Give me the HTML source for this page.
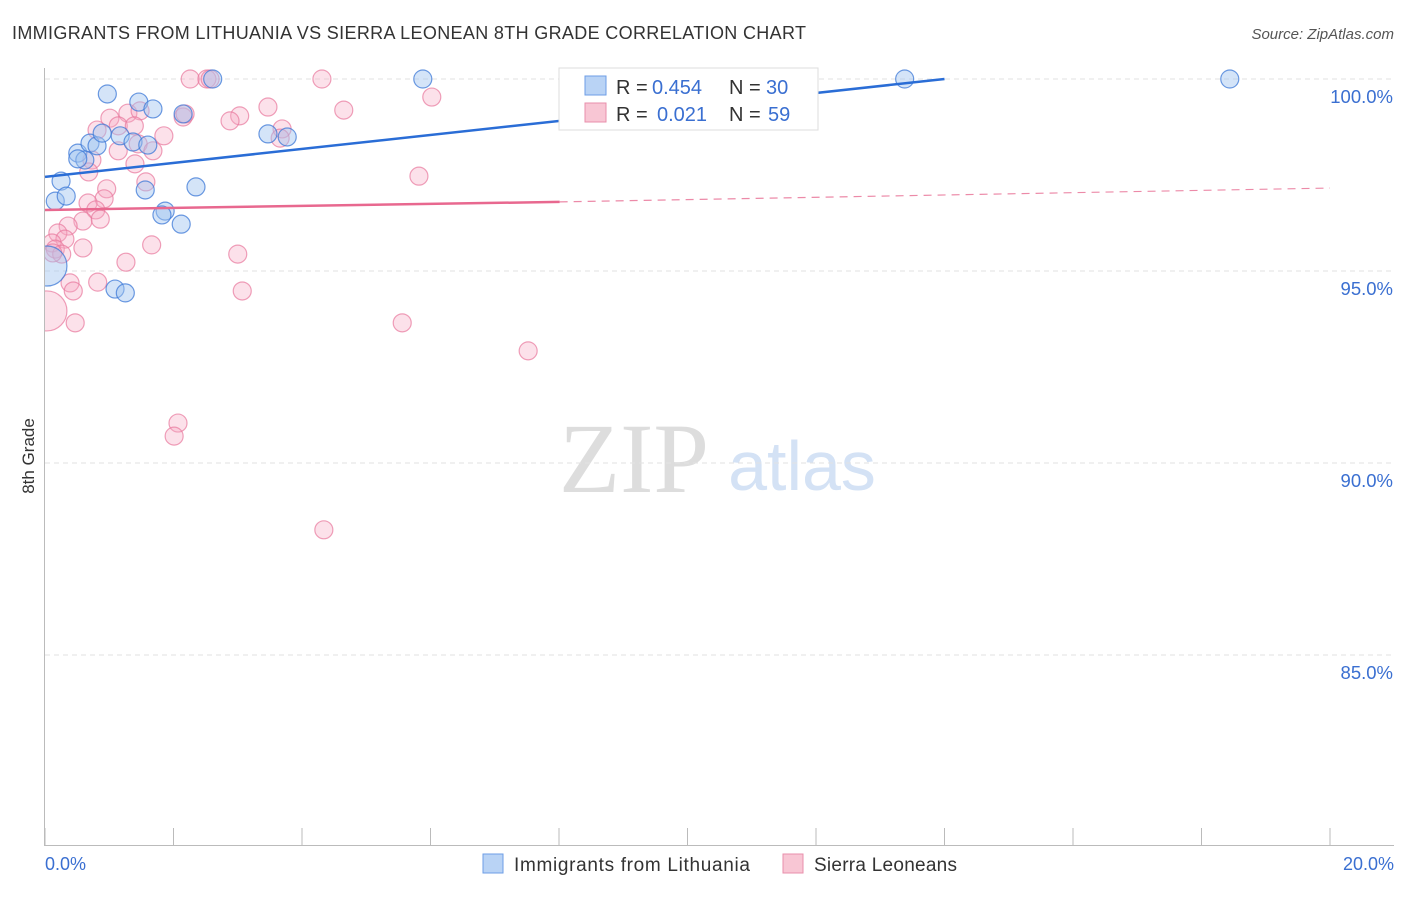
<!DOCTYPE html>
<html><head><meta charset="utf-8"><style>
body{margin:0;background:#fff;width:1406px;height:892px;overflow:hidden;font-family:"Liberation Sans",sans-serif}
</style></head><body>
<svg id="c" width="1406" height="892" xmlns="http://www.w3.org/2000/svg" font-family="Liberation Sans, sans-serif">
<defs><clipPath id="plot"><rect x="45" y="60" width="1360" height="786"/></clipPath></defs>
<text x="12" y="39" font-size="18" fill="#333" textLength="794">IMMIGRANTS FROM LITHUANIA VS SIERRA LEONEAN 8TH GRADE CORRELATION CHART</text>
<text x="1394" y="39" font-size="15" fill="#555" font-style="italic" text-anchor="end">Source: ZipAtlas.com</text>
<text x="34" y="456" font-size="17" fill="#333" transform="rotate(-90 34 456)" text-anchor="middle">8th Grade</text>
<text x="634" y="492" font-size="100" fill="#ddd" style="font-family:'Liberation Serif',serif" text-anchor="middle">ZIP</text>
<text x="802" y="490" font-size="70" fill="#d4e2f5" text-anchor="middle">atlas</text>
<g id="grid"></g><g id="pts" clip-path="url(#plot)"></g><g id="lines"></g>
<g>
<rect x="559" y="68" width="259" height="62" fill="#fff" stroke="#ddd"/>
<rect x="585" y="76" width="21" height="19" fill="#b9d3f5" stroke="#6d9ee6"/>
<text y="94" font-size="20" fill="#333"><tspan x="616">R =</tspan><tspan x="652" fill="#3a6fd1">0.454</tspan><tspan x="729">N =</tspan><tspan x="766" fill="#3a6fd1">30</tspan></text>
<rect x="585" y="103" width="21" height="19" fill="#f8c6d4" stroke="#e88fab"/>
<text y="121" font-size="20" fill="#333"><tspan x="616">R =</tspan><tspan x="657" fill="#3a6fd1">0.021</tspan><tspan x="729">N =</tspan><tspan x="768" fill="#3a6fd1">59</tspan></text>
</g>
<g>
<rect x="483" y="854" width="20" height="19" fill="#b9d3f5" stroke="#6d9ee6"/>
<text x="514" y="871" font-size="19" fill="#333" textLength="236">Immigrants from Lithuania</text>
<rect x="783" y="854" width="20" height="19" fill="#f8c6d4" stroke="#e88fab"/>
<text x="814" y="871" font-size="19" fill="#333" textLength="143">Sierra Leoneans</text>
</g>
<text x="45" y="870" font-size="18" fill="#3a6fd1">0.0%</text>
<text x="1394" y="870" font-size="18" fill="#3a6fd1" text-anchor="end">20.0%</text>
</svg>
<script>
const yTicks=[100,95,90,85];
const yTickLabels=["100.0%","95.0%","90.0%","85.0%"];
const blueX=[0.97,1.46,1.68,2.15,2.61,5.88,13.38,18.44,0.51,0.70,0.81,0.62,0.89,1.17,1.37,1.60,0.25,0.16,0.33,1.56,1.87,1.82,2.12,2.35,3.47,3.77,1.09,1.25,0.03,0.51];
const blueY=[99.61,99.40,99.22,99.09,100,100,100,100,98.07,98.33,98.26,97.89,98.59,98.52,98.36,98.28,97.34,96.82,96.95,97.11,96.56,96.46,96.22,97.19,98.57,98.49,94.53,94.43,95.13,97.92];
const pinkX=[2.26,2.52,2.57,4.31,6.02,4.65,3.03,2.88,2.15,1.29,1.48,1.01,0.81,1.14,1.39,1.85,1.45,1.14,1.68,1.40,0.73,0.68,3.69,3.66,5.82,1.57,0.96,0.92,0.67,0.79,0.86,0.59,0.36,0.20,0.31,0.11,0.16,0.26,0.12,0.59,1.66,3.00,1.26,0.82,0.39,0.44,3.07,0.47,5.56,7.52,2.07,2.01,4.34,0.03,2.18,3.47];
const pinkY=[100,100,100,100,99.53,99.19,99.04,98.91,99.01,99.11,99.17,98.98,98.67,98.78,98.78,98.52,98.31,98.13,98.13,97.79,97.89,97.58,98.70,98.46,97.47,97.32,97.14,96.88,96.77,96.59,96.35,96.30,96.17,95.99,95.83,95.73,95.57,95.44,95.47,95.60,95.68,95.44,95.23,94.71,94.69,94.48,94.48,93.65,93.65,92.92,91.04,90.70,88.26,93.96,99.09,99.27];
const blueFit=[[0,97.45],[14.0,100]];
const pinkFitSolid=[[0,96.59],[8.01,96.80]];
const pinkFitDash=[[8.01,96.80],[20,97.16]];
const sx=v=>45+v/20*1285, sy=v=>79+(100-v)*38.4;
const NS="http://www.w3.org/2000/svg";
function mk(t,a,p){const e=document.createElementNS(NS,t);for(const k in a)e.setAttribute(k,a[k]);p.appendChild(e);return e;}
const g=document.getElementById('grid');
yTicks.forEach((t,i)=>{
 const l=mk('line',{x1:45,x2:1394,y1:sy(t),y2:sy(t),stroke:'#e2e2e2','stroke-dasharray':'5,4'},g);
 
 
 const tx=mk('text',{x:1393,y:sy(t)+24,'font-size':18.5,fill:'#3a6fd1','text-anchor':'end'},g);
 tx.textContent=yTickLabels[i];
 
 
});
const ax=mk('line',{x1:44.5,x2:44.5,y1:68,y2:846,stroke:'#bbb'},g);


const bx=mk('line',{x1:44,x2:1394,y1:845.5,y2:845.5,stroke:'#bbb'},g);


for(let i=0;i<=10;i++){const t=mk('line',{x1:sx(i*2),x2:sx(i*2),y1:828,y2:846,stroke:'#bbb'},g);
 
 }
const P=document.getElementById('pts');
pinkX.forEach((x,i)=>{const r=(x<0.1)?20:9;const c=mk('circle',{cx:sx(x),cy:sy(pinkY[i]),r:r,fill:'rgba(246,170,195,0.35)',stroke:'rgba(232,120,156,0.7)','stroke-width':1.2},P);
 
 });
blueX.forEach((x,i)=>{const r=(x<0.1)?20:9;const c=mk('circle',{cx:sx(x),cy:sy(blueY[i]),r:r,fill:'rgba(160,195,240,0.45)',stroke:'rgba(60,120,215,0.75)','stroke-width':1.2},P);
 
 });
const L=document.getElementById('lines');
const b=mk('line',{x1:sx(blueFit[0][0]),y1:sy(blueFit[0][1]),x2:sx(blueFit[1][0]),y2:sy(blueFit[1][1]),stroke:'#2a6dd6','stroke-width':2.5},L);


const p1=mk('line',{x1:sx(pinkFitSolid[0][0]),y1:sy(pinkFitSolid[0][1]),x2:sx(pinkFitSolid[1][0]),y2:sy(pinkFitSolid[1][1]),stroke:'#e8688f','stroke-width':2.5},L);


const p2=mk('line',{x1:sx(pinkFitDash[0][0]),y1:sy(pinkFitDash[0][1]),x2:sx(pinkFitDash[1][0]),y2:sy(pinkFitDash[1][1]),stroke:'#ec8aa8','stroke-width':1.2,'stroke-dasharray':'8,6'},L);


</script>
</body></html>
